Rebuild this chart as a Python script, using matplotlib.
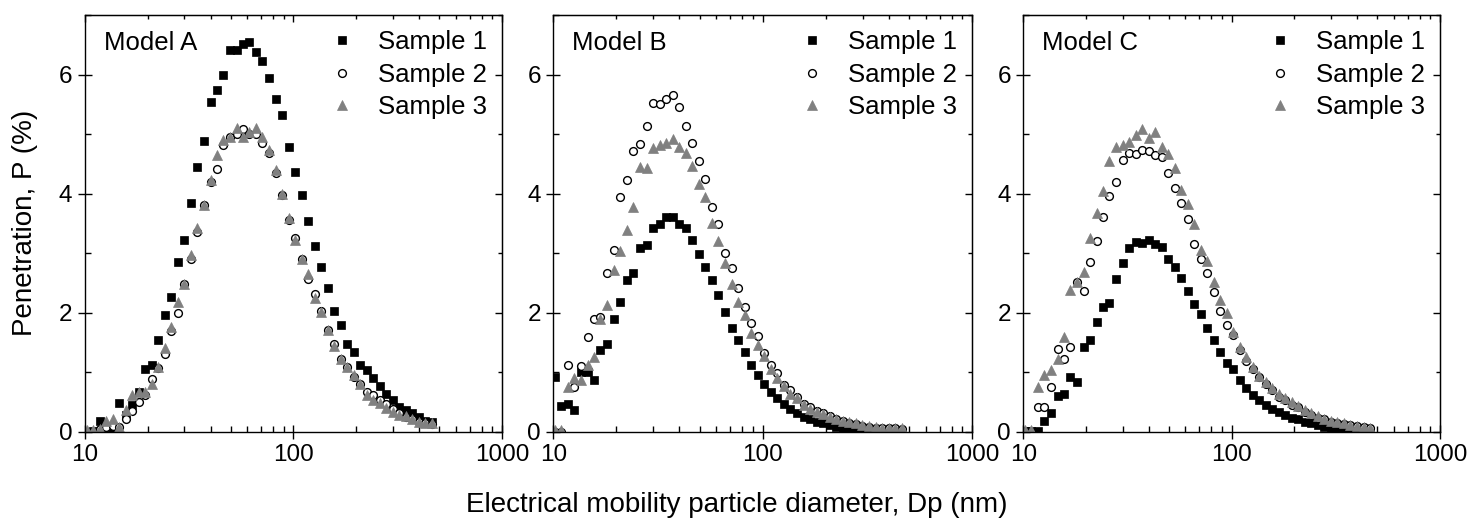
import matplotlib
matplotlib.use("Agg")
import matplotlib.pyplot as plt
from matplotlib.ticker import FixedLocator, FixedFormatter, AutoMinorLocator, LogLocator, NullFormatter

plt.rcParams['font.family'] = ['Liberation Sans', 'DejaVu Sans']

# Particle diameters (nm), shared by all panels
diameter = [10.2, 10.9, 11.8, 12.6, 13.6, 14.6, 15.7, 16.8, 18.1, 19.5,
            20.9, 22.5, 24.1, 25.9, 27.9, 30.0, 32.2, 34.6, 37.2, 40.0,
            42.9, 46.1, 49.6, 53.3, 57.3, 61.5, 66.1, 71.0, 76.4, 82.0,
            88.2, 94.7, 101.8, 109.4, 117.6, 126.3, 135.8, 145.9, 156.8, 168.5,
            181.1, 194.6, 209.1, 224.7, 241.4, 259.5, 278.8, 299.6, 322.0, 346.0,
            371.8, 399.5, 429.4, 461.4]

# Model A
a_s1 = [0.0, 0.02, 0.18, 0.08, 0.05, 0.49, 0.29, 0.45, 0.67, 1.06,
        1.12, 1.54, 1.96, 2.26, 2.85, 3.22, 3.85, 4.45, 4.89, 5.54,
        5.74, 6.0, 6.41, 6.41, 6.51, 6.54, 6.38, 6.22, 5.94, 5.59,
        5.32, 4.79, 4.37, 3.98, 3.54, 3.12, 2.76, 2.41, 2.03, 1.79,
        1.48, 1.34, 1.12, 1.03, 0.90, 0.77, 0.63, 0.54, 0.42, 0.36,
        0.31, 0.25, 0.18, 0.17]
a_s2 = [0.0, 0.0, 0.05, 0.08, 0.1, 0.08, 0.22, 0.35, 0.5, 0.62,
        0.88, 1.08, 1.3, 1.7, 1.99, 2.49, 2.91, 3.35, 3.81, 4.2,
        4.41, 4.81, 4.95, 5.01, 5.08, 5.0, 5.0, 4.85, 4.68, 4.34,
        3.98, 3.56, 3.25, 2.9, 2.57, 2.32, 2.03, 1.71, 1.48, 1.22,
        1.09, 0.92, 0.8, 0.67, 0.62, 0.53, 0.46, 0.38, 0.31, 0.25,
        0.21, 0.17, 0.14, 0.13]
a_s3 = [0.03, 0.03, 0.05, 0.18, 0.22, 0.08, 0.36, 0.62, 0.67, 0.67,
        0.81, 1.09, 1.4, 1.76, 2.18, 2.49, 2.97, 3.42, 3.81, 4.23,
        4.65, 4.9, 4.96, 5.1, 4.96, 5.03, 5.11, 4.96, 4.73, 4.4,
        4.0, 3.59, 3.22, 2.91, 2.65, 2.25, 2.02, 1.71, 1.44, 1.23,
        1.09, 0.95, 0.81, 0.62, 0.53, 0.48, 0.4, 0.34, 0.29, 0.26,
        0.22, 0.17, 0.15, 0.15]

# Model B
b_s1 = [0.92, 0.43, 0.46, 0.36, 1.0, 1.0, 0.87, 1.37, 1.47, 1.9,
        2.18, 2.55, 2.66, 3.08, 3.13, 3.42, 3.49, 3.61, 3.61, 3.49,
        3.42, 3.22, 2.98, 2.77, 2.55, 2.3, 2.02, 1.75, 1.55, 1.34,
        1.12, 0.95, 0.81, 0.67, 0.56, 0.46, 0.38, 0.31, 0.25, 0.21,
        0.17, 0.14, 0.11, 0.08, 0.06, 0.04, 0.02, 0.01, 0.0, 0.0,
        0.0, 0.0, 0.0, 0.0]
b_s2 = [0.0, 0.0, 1.12, 0.76, 1.11, 1.59, 1.89, 1.92, 2.66, 3.06,
        3.95, 4.23, 4.72, 4.83, 5.14, 5.53, 5.51, 5.59, 5.65, 5.45,
        5.14, 4.85, 4.55, 4.25, 3.77, 3.49, 3.0, 2.75, 2.42, 2.1,
        1.82, 1.61, 1.33, 1.13, 0.98, 0.78, 0.7, 0.58, 0.46, 0.41,
        0.35, 0.31, 0.26, 0.22, 0.18, 0.15, 0.13, 0.1, 0.08, 0.07,
        0.07, 0.06, 0.06, 0.05]
b_s3 = [0.03, 0.03, 0.76, 0.9, 0.87, 1.12, 1.26, 1.9, 2.13, 2.72,
        3.03, 3.39, 3.77, 4.44, 4.43, 4.77, 4.82, 4.85, 4.91, 4.79,
        4.68, 4.47, 4.16, 3.95, 3.51, 3.21, 2.83, 2.48, 2.18, 1.96,
        1.66, 1.46, 1.27, 1.06, 0.9, 0.77, 0.64, 0.56, 0.45, 0.39,
        0.34, 0.3, 0.25, 0.22, 0.18, 0.17, 0.14, 0.11, 0.1, 0.08,
        0.07, 0.07, 0.07, 0.06]

# Model C
c_s1 = [0.02, 0.02, 0.02, 0.18, 0.32, 0.6, 0.64, 0.92, 0.83, 1.43,
        1.54, 1.84, 2.09, 2.16, 2.56, 2.83, 3.08, 3.18, 3.17, 3.22,
        3.15, 3.11, 2.91, 2.76, 2.58, 2.36, 2.14, 1.98, 1.74, 1.54,
        1.34, 1.16, 1.05, 0.87, 0.73, 0.62, 0.53, 0.45, 0.39, 0.34,
        0.28, 0.24, 0.21, 0.17, 0.14, 0.11, 0.08, 0.06, 0.04, 0.03,
        0.02, 0.02, 0.01, 0.01]
c_s2 = [0.0, 0.0, 0.41, 0.41, 0.76, 1.39, 1.23, 1.43, 2.52, 2.37,
        2.86, 3.21, 3.6, 3.96, 4.2, 4.57, 4.69, 4.67, 4.73, 4.71,
        4.65, 4.62, 4.34, 4.1, 3.85, 3.57, 3.15, 2.9, 2.66, 2.34,
        2.03, 1.79, 1.62, 1.37, 1.19, 1.06, 0.92, 0.81, 0.71, 0.59,
        0.53, 0.45, 0.41, 0.34, 0.28, 0.24, 0.21, 0.17, 0.15, 0.13,
        0.11, 0.1, 0.08, 0.07]
c_s3 = [0.03, 0.03, 0.76, 0.95, 1.04, 1.23, 1.59, 2.38, 2.52, 2.69,
        3.25, 3.68, 4.04, 4.55, 4.78, 4.81, 4.86, 4.99, 5.08, 4.93,
        5.04, 4.79, 4.66, 4.43, 4.06, 3.83, 3.49, 3.05, 2.87, 2.52,
        2.21, 1.99, 1.68, 1.43, 1.25, 1.09, 0.94, 0.84, 0.74, 0.64,
        0.56, 0.5, 0.43, 0.36, 0.31, 0.26, 0.22, 0.18, 0.16, 0.14,
        0.11, 0.1, 0.08, 0.07]

panel_titles = ['Model A', 'Model B', 'Model C']
series_labels = ['Sample 1', 'Sample 2', 'Sample 3']
panel_data = [[a_s1, a_s2, a_s3], [b_s1, b_s2, b_s3], [c_s1, c_s2, c_s3]]
x_ticks = [10, 100, 1000]
x_tick_labels = ['10', '100', '1000']
y_ticks = [0, 2, 4, 6]

styles = [
    dict(marker='s', ms=6.2, mfc='black', mec='black', mew=0.5, ls='none'),
    dict(marker='o', ms=5.6, mfc='white', mec='black', mew=1.0, ls='none'),
    dict(marker='^', ms=7.6, mfc='#808080', mec='#808080', mew=0.5, ls='none'),
]

fig = plt.figure(figsize=(14.73, 5.19), dpi=100)
lefts = [0.0577, 0.3756, 0.6947]
widths = [0.2831, 0.2843, 0.2829]
bottom, height = 0.168, 0.803

for i in range(3):
    ax = fig.add_axes([lefts[i], bottom, widths[i], height])
    for s in range(3):
        ax.plot(diameter, panel_data[i][s], label=series_labels[s], **styles[s])
    ax.set_xscale('log')
    ax.set_xlim(10, 1000)
    ax.set_ylim(0, 7)
    ax.xaxis.set_major_locator(FixedLocator(x_ticks))
    ax.xaxis.set_major_formatter(FixedFormatter(x_tick_labels))
    ax.xaxis.set_minor_locator(LogLocator(base=10, subs=range(2, 10)))
    ax.xaxis.set_minor_formatter(NullFormatter())
    ax.yaxis.set_major_locator(FixedLocator(y_ticks))
    ax.yaxis.set_minor_locator(AutoMinorLocator(2))
    ax.tick_params(which='major', direction='inout', length=10, width=1.0,
                   labelsize=17.5, pad=4)
    ax.tick_params(which='minor', direction='in', length=4, width=1.0)
    for sp in ax.spines.values():
        sp.set_linewidth(1.0)

    top = ax.secondary_xaxis('top')
    top.xaxis.set_major_locator(FixedLocator(x_ticks))
    top.xaxis.set_major_formatter(NullFormatter())
    top.xaxis.set_minor_locator(LogLocator(base=10, subs=range(2, 10)))
    top.xaxis.set_minor_formatter(NullFormatter())
    top.tick_params(which='major', direction='in', length=5, width=1.0)
    top.tick_params(which='minor', direction='in', length=3, width=1.0)

    right = ax.secondary_yaxis('right')
    right.yaxis.set_major_locator(FixedLocator(y_ticks))
    right.yaxis.set_major_formatter(NullFormatter())
    right.yaxis.set_minor_locator(AutoMinorLocator(2))
    right.tick_params(which='major', direction='in', length=5, width=1.0)
    right.tick_params(which='minor', direction='in', length=3, width=1.0)

    ax.text(0.045, 0.934, panel_titles[i], transform=ax.transAxes,
            fontsize=18.5, ha='left', va='center')
    ax.legend(loc='upper right', frameon=False, fontsize=18.5,
              handlelength=1.0, handletextpad=0.9, labelspacing=0.32,
              borderaxespad=0.3, borderpad=0.3)

fig.text(0.5, 0.0135, 'Electrical mobility particle diameter, Dp (nm)',
         fontsize=20, ha='center', va='baseline')
fig.text(0.017, 0.570, 'Penetration, P (%)', fontsize=20, rotation=90,
         ha='center', va='center')

fig.savefig('out.png', dpi=100)
